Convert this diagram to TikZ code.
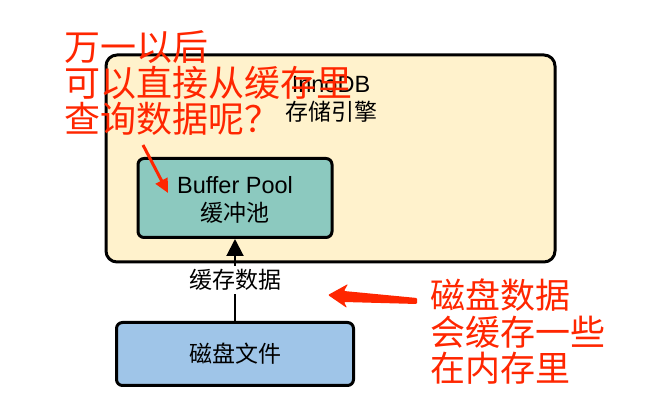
\documentclass[tikz,border=0pt]{standalone}
\usepackage{fontspec}
\setmainfont{Liberation Sans}
\newfontfamily\cjk{Noto Sans CJK SC}
\usetikzlibrary{arrows.meta}
\definecolor{cream}{HTML}{FFF2CC}
\definecolor{teal2}{HTML}{8CC9BF}
\definecolor{blue2}{HTML}{9FC5E8}
\definecolor{redann}{RGB}{255,38,0}
\tikzset{
  box/.style={draw=black, line width=3pt, rounded corners=6pt},
  lbl/.style={inner sep=0pt, font=\fontsize{23}{26}\selectfont\cjk},
  latin/.style={inner sep=0pt, font=\fontsize{23.5}{26}\selectfont},
  redtxt/.style={inner sep=0pt, anchor=west, text=redann, align=left},
}
\begin{document}
\begin{tikzpicture}[x=1pt,y=-1pt]
\useasboundingbox (0,0) rectangle (648,411);
\draw[box, fill=cream, rounded corners=11pt] (106,55) rectangle (555,262);
\node[latin] (inno) at (331,85) {InnoDB};
\node[lbl] (engine) at (331,112) {存储引擎};
\node[box, fill=teal2, minimum width=194pt, minimum height=79pt, inner sep=0pt] (bp) at (235,198) {};
\node[latin] (bpt) at (235,185) {Buffer Pool};
\node[lbl] (bpc) at (235,213) {缓冲池};
\node[box, fill=blue2, minimum width=237pt, minimum height=63pt, inner sep=0pt] (disk) at (235,354) {};
\node[lbl] (diskt) at (235,354) {磁盘文件};
\draw[line width=2pt, -{Triangle[length=17pt,width=17pt]}] (disk.north) -- node[lbl, fill=white, inner sep=3pt] (cache) {缓存数据} (bp.south);
\node[redtxt, font=\fontsize{36}{36}\selectfont\cjk] (q) at (64,83) {万一以后\\可以直接从缓存里\\查询数据呢？};
\coordinate (qs) at (143,145);
\coordinate (qe) at (168,193);
\draw[redann, line width=3pt, -{Triangle[length=14pt,width=13pt]}] (qs) -- (qe);
\node[redtxt, font=\fontsize{35}{36.5}\selectfont\cjk] (note) at (430,332) {磁盘数据\\会缓存一些\\在内存里};
\coordinate (tail) at (417,301);
\coordinate (tip) at (328,295);
\fill[redann, rounded corners=1pt] (tip) -- (348,284) -- (344,291) -- (417,298) -- (417,304) -- (344,302) -- (347,308) -- cycle;
\end{tikzpicture}
\end{document}
